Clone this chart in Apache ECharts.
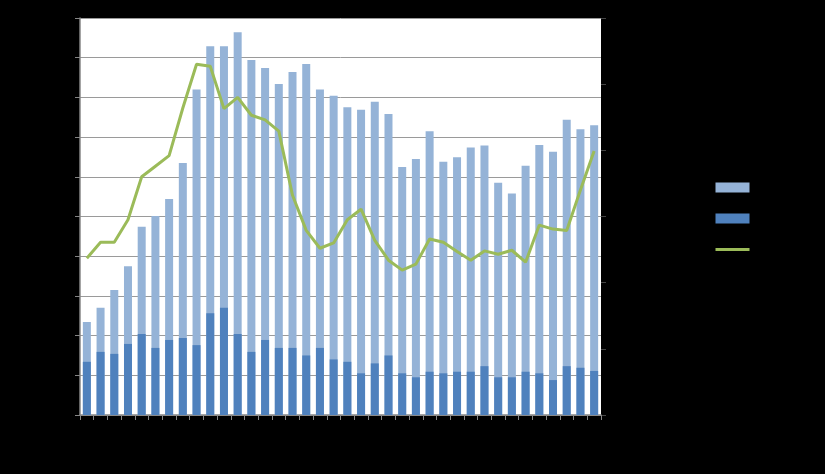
<!DOCTYPE html>
<html>
<head>
<meta charset="utf-8">
<script src="https://cdn.jsdelivr.net/npm/echarts@6/dist/echarts.min.js"></script>
<style>
html,body{margin:0;padding:0;background:#000;}
#chart{width:825px;height:474px;}
</style>
</head>
<body>
<div id="chart"></div>
<script>
const categories = ['1971','1972','1973','1974','1975','1976','1977','1978','1979','1980','1981','1982','1983','1984','1985','1986','1987','1988','1989','1990','1991','1992','1993','1994','1995','1996','1997','1998','1999','2000','2001','2002','2003','2004','2005','2006','2007','2008'];
const totalValues = [23.4,27.0,31.5,37.5,47.4,50.1,54.4,63.5,82.0,92.9,92.9,96.4,89.4,87.4,83.4,86.4,88.4,82.0,80.4,77.5,76.9,78.9,75.8,62.5,64.5,71.5,63.8,64.9,67.4,67.9,58.5,55.8,62.8,68.0,66.3,74.4,72.0,73.0];
const partValues = [13.4,15.9,15.4,17.9,20.4,16.9,18.9,19.4,17.6,25.6,27.0,20.4,15.9,18.9,16.9,16.9,15.0,16.9,14.0,13.4,10.5,13.0,15.0,10.5,9.5,10.9,10.5,10.9,10.9,12.3,9.5,9.5,10.9,10.5,8.8,12.3,11.9,11.1];
const lineValues = [23.7,26.1,26.1,29.5,36.0,37.6,39.2,46.4,53.0,52.7,46.3,48.0,45.3,44.6,42.9,33.2,27.9,25.2,26.0,29.5,31.1,26.4,23.4,21.9,22.8,26.6,26.1,24.7,23.4,24.8,24.3,24.9,23.1,28.7,28.1,27.9,34.0,39.9];
const seriesNames = ['Total','Part','Ratio'];

const chart = echarts.init(document.getElementById('chart'));
chart.setOption({
  backgroundColor: '#000',
  animation: false,
  grid: {left: 80, right: 224, top: 18, bottom: 59, show: true, backgroundColor: '#fff', borderWidth: 0},
  legend: {
    orient: 'vertical', left: 709, top: 177, itemWidth: 34, itemHeight: 10, itemGap: 20,
    textStyle: {color: '#000', fontSize: 11},
    data: [
      {name: seriesNames[0], icon: 'rect'},
      {name: seriesNames[1], icon: 'rect'},
      {name: seriesNames[2], lineStyle: {width: 3}, itemStyle: {color: 'rgba(0,0,0,0)', borderWidth: 0, opacity: 0}}
    ]
  },
  xAxis: {
    type: 'category', data: categories, boundaryGap: true,
    axisLine: {lineStyle: {color: '#868686', width: 1.5}},
    axisTick: {show: true, interval: 0, alignWithLabel: false, length: 5, lineStyle: {color: '#868686'}},
    axisLabel: {show: false, interval: 0}
  },
  yAxis: [
    {type: 'value', min: 0, max: 100, interval: 10,
     axisLine: {show: true, lineStyle: {color: '#868686', width: 1.5}},
     axisTick: {show: true, length: 5, lineStyle: {color: '#868686'}},
     axisLabel: {show: false},
     splitLine: {lineStyle: {color: '#9a9a9a', width: 1}}},
    {type: 'value', min: 0, max: 60, interval: 10, position: 'right',
     axisLine: {show: true, lineStyle: {color: '#000', width: 1}},
     axisTick: {show: true, length: 5, lineStyle: {color: '#444'}},
     axisLabel: {show: false},
     splitLine: {show: false}}
  ],
  series: [
    {name: seriesNames[0], type: 'bar', data: totalValues, barWidth: 8, barGap: '-100%',
     itemStyle: {color: '#95B3D7'}},
    {name: seriesNames[1], type: 'bar', data: partValues, barWidth: 8, barGap: '-100%',
     itemStyle: {color: '#4F81BD'}},
    {name: seriesNames[2], type: 'line', yAxisIndex: 1, data: lineValues, symbol: 'none',
     lineStyle: {color: '#9BBB59', width: 3}, itemStyle: {color: '#9BBB59'}}
  ]
});
</script>
</body>
</html>
